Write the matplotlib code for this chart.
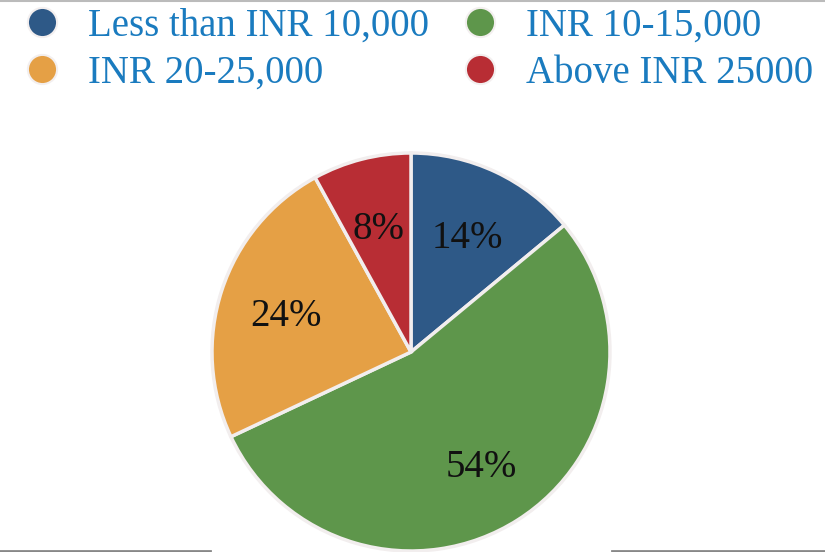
import matplotlib.pyplot as plt
from matplotlib.lines import Line2D

plt.rcParams['font.family'] = ['Liberation Serif', 'DejaVu Serif']

# data
labels = ['Less than INR 10,000', 'INR 10-15,000', 'INR 20-25,000', 'Above INR 25000']
shares = [14, 54, 24, 8]
colors = ['#2e5987', '#5e964b', '#e5a045', '#b82d34']

fig = plt.figure(figsize=(8.25, 5.52), dpi=100)

# pie axes, centre ~ (411, 352) px, radius ~ 199 px
W, H = 825, 552
cx, cy, r = 411, 352, 199
ax = fig.add_axes([(cx - r) / W, (H - cy - r) / H, 2 * r / W, 2 * r / H])
wedges, texts, autotexts = ax.pie(
    shares, colors=colors, startangle=90, counterclock=False,
    autopct='%d%%', pctdistance=0.66,
    wedgeprops=dict(edgecolor='#f2eeee', linewidth=2.5),
    textprops=dict(fontsize=28, color='#111111'))
for t in autotexts:
    x, y = t.get_position()
    t.set_position((x, y - 5 / r))
ax.set_xlim(-1, 1)
ax.set_ylim(-1, 1)
ax.set_aspect('equal')
ax.axis('off')

# legend, column order: blue, orange | green, red
order = [0, 2, 1, 3]
handles = [Line2D([], [], marker='o', linestyle='', markersize=21,
                  markerfacecolor=colors[i], markeredgecolor='#f3efef',
                  markeredgewidth=1.5) for i in order]
leg = fig.legend(handles, [labels[i] for i in order], ncol=2,
                 loc='upper left', bbox_to_anchor=(23 / W, 1 - 8 / H),
                 frameon=False, fontsize=28, borderpad=0, borderaxespad=0,
                 handlelength=1.0, handletextpad=0.68, columnspacing=0.8,
                 labelspacing=0.25)
for t in leg.get_texts():
    t.set_color('#1a7bbf')

# thin rules
fig.add_artist(Line2D([0, 1], [1 - 1 / H, 1 - 1 / H], color='#bbbbbb', linewidth=1.5))
fig.add_artist(Line2D([0, 210 / W], [1.5 / H, 1.5 / H], color='#888888', linewidth=2))
fig.add_artist(Line2D([612 / W, 1], [1.5 / H, 1.5 / H], color='#888888', linewidth=2))

fig.savefig('out.png', dpi=100)
